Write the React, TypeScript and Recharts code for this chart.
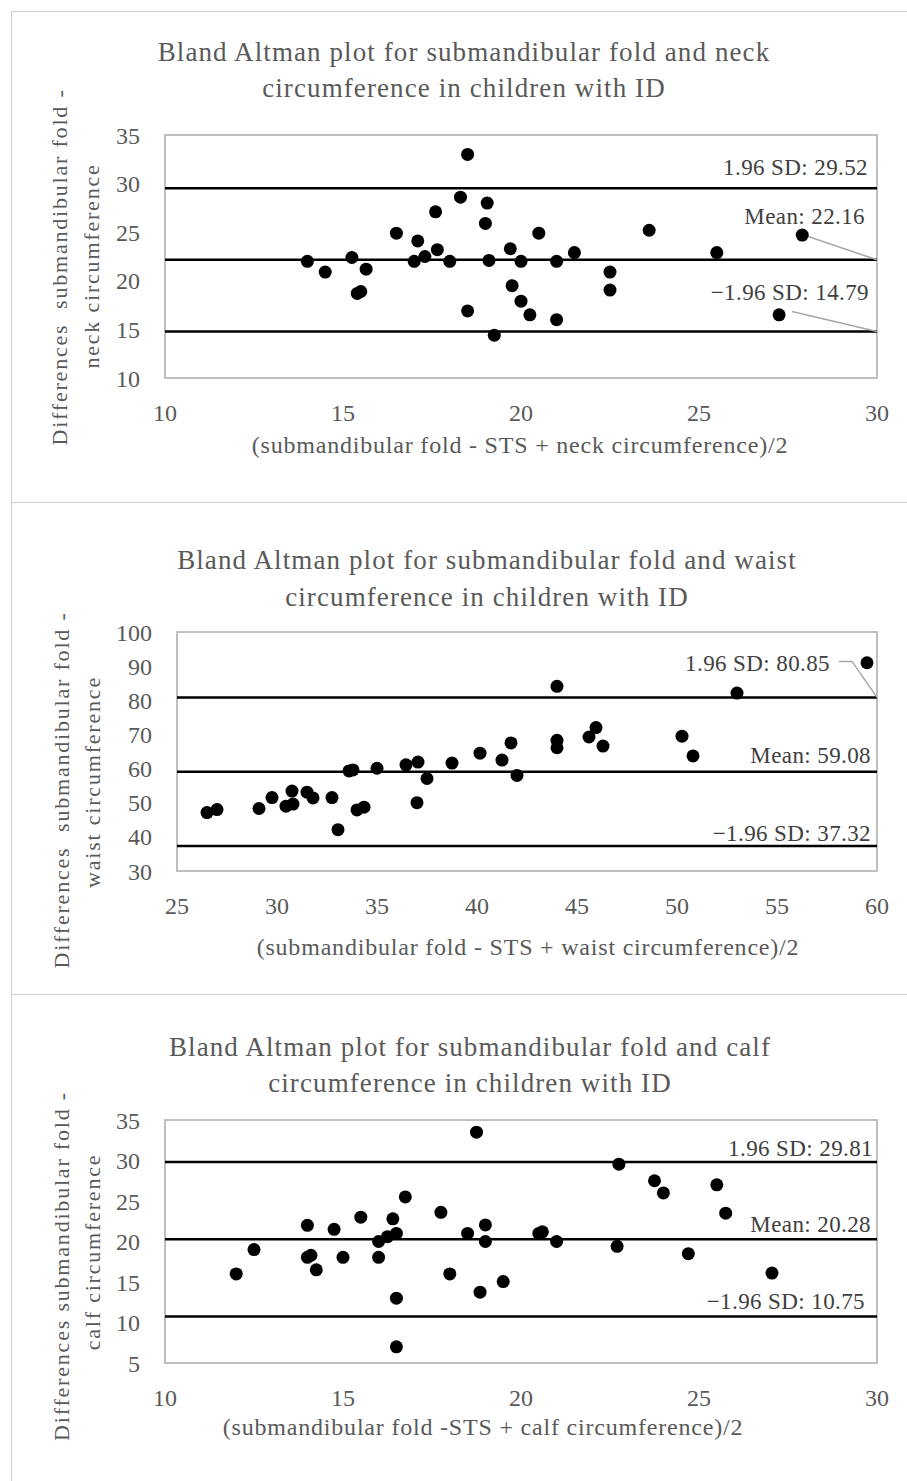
import React from 'react';
import { ScatterChart, Scatter, XAxis, YAxis, ReferenceLine, ReferenceArea } from 'recharts';

// ---------- Data ----------
// Panel 1: neck circumference
const neckMeanX = [14.0, 14.5, 15.25, 15.4, 15.5, 15.65, 16.5, 17.0, 17.1, 17.3, 17.6, 17.65, 18.0, 18.3, 18.5, 18.5, 19.0, 19.05, 19.1, 19.25, 19.7, 19.75, 20.0, 20.0, 20.25, 20.5, 21.0, 21.0, 21.5, 22.5, 22.5, 23.6, 25.5, 27.25, 27.9];
const neckDiffY = [22.0, 20.9, 22.4, 18.7, 18.9, 21.2, 24.9, 22.0, 24.1, 22.5, 27.1, 23.2, 22.0, 28.6, 33.0, 16.9, 25.9, 28.0, 22.1, 14.4, 23.3, 19.5, 22.0, 17.9, 16.5, 24.9, 22.0, 16.0, 22.9, 20.9, 19.05, 25.2, 22.9, 16.5, 24.7];
const neckLimits = { upper: 29.52, mean: 22.16, lower: 14.79 };
const neckXTicks = [10, 15, 20, 25, 30];
const neckYTicks = [10, 15, 20, 25, 30, 35];

// Panel 2: waist circumference
const waistMeanX = [26.5, 27.0, 29.1, 29.75, 30.45, 30.8, 30.75, 31.5, 31.8, 32.75, 33.05, 33.6, 33.8, 34.0, 34.35, 35.0, 36.45, 37.05, 37.0, 37.5, 38.75, 40.15, 41.25, 41.7, 42.0, 44.0, 44.0, 44.0, 45.6, 45.95, 46.3, 50.25, 50.8, 53.0, 59.5];
const waistDiffY = [47.1, 48.0, 48.3, 51.5, 49.0, 49.6, 53.4, 53.1, 51.4, 51.5, 42.1, 59.3, 59.6, 47.9, 48.7, 60.1, 61.1, 61.9, 50.0, 57.1, 61.6, 64.5, 62.5, 67.5, 58.0, 84.1, 68.3, 66.1, 69.25, 72.0, 66.6, 69.5, 63.7, 82.1, 91.0];
const waistLimits = { upper: 80.85, mean: 59.08, lower: 37.32 };
const waistXTicks = [25, 30, 35, 40, 45, 50, 55, 60];
const waistYTicks = [30, 40, 50, 60, 70, 80, 90, 100];

// Panel 3: calf circumference
const calfMeanX = [12.0, 12.5, 14.0, 14.0, 14.1, 14.25, 14.75, 15.0, 15.5, 16.0, 16.0, 16.25, 16.4, 16.5, 16.5, 16.5, 16.75, 17.75, 18.0, 18.5, 18.75, 18.85, 19.0, 19.0, 19.5, 20.5, 20.6, 21.0, 22.7, 22.75, 23.75, 24.0, 24.7, 25.5, 25.75, 27.05];
const calfDiffY = [16.0, 19.0, 22.0, 18.05, 18.3, 16.5, 21.5, 18.05, 23.0, 20.0, 18.05, 20.6, 22.8, 21.0, 13.0, 7.0, 25.5, 23.6, 16.0, 21.0, 33.5, 13.75, 22.05, 20.0, 15.05, 21.0, 21.2, 20.0, 19.4, 29.55, 27.5, 26.0, 18.5, 27.0, 23.5, 16.1];
const calfLimits = { upper: 29.81, mean: 20.28, lower: 10.75 };
const calfXTicks = [10, 15, 20, 25, 30];
const calfYTicks = [5, 10, 15, 20, 25, 30, 35];

const titles = [
  ['Bland Altman plot for submandibular fold and neck', 'circumference in children with ID'],
  ['Bland Altman plot for submandibular fold and waist', 'circumference in children with ID'],
  ['Bland Altman plot for submandibular fold and calf', 'circumference in children with ID'],
];
const xTitles = [
  '(submandibular fold - STS + neck circumference)/2',
  '(submandibular fold - STS + waist circumference)/2',
  '(submandibular fold -STS + calf circumference)/2',
];
const yTitles = [
  ['Differences\u00a0 submandibular fold -', 'neck circumference'],
  ['Differences\u00a0 submandibular fold -', 'waist circumference'],
  ['Differences submandibular fold -', 'calf circumference'],
];

const toPoints = (xs: number[], ys: number[]) => xs.map((x, i) => ({ x, y: ys[i] }));

// ---------- Styles ----------
const FONT = '"Liberation Serif", "Times New Roman", serif';
const TEXT = '#595959';
const LABEL = '#404040';

type LabelSpec = { right: number; above: number; leader?: number[][] };

type Panel = {
  top: number;
  height: number;
  plotLeft: number;
  plotTop: number;
  plotBottom: number;
  titleCx: number;
  titleY: [number, number];
  xTitleCx: number;
  xTitleY: number;
  yTitleX: [number, number];
  yTitleY: [number, number];
  labels: { upper: LabelSpec; mean: LabelSpec; lower: LabelSpec };
};

const panels: Panel[] = [
  {
    top: 0, height: 500, plotLeft: 165, plotTop: 135, plotBottom: 378,
    titleCx: 464, titleY: [52, 88], xTitleCx: 520, xTitleY: 445,
    yTitleX: [60, 92], yTitleY: [267, 266],
    labels: {
      upper: { right: 9, above: 21 },
      mean: { right: 12, above: 43, leader: [[-74, -25], [0, 0]] },
      lower: { right: 8, above: 39, leader: [[-85, -20], [0, 0]] },
    },
  },
  {
    top: 500, height: 494, plotLeft: 177, plotTop: 632, plotBottom: 871,
    titleCx: 487, titleY: [560, 597], xTitleCx: 528, xTitleY: 947,
    yTitleX: [62, 93], yTitleY: [790, 782],
    labels: {
      upper: { right: 47, above: 34, leader: [[-38, -36], [-25, -36], [0, 0]] },
      mean: { right: 6, above: 16 },
      lower: { right: 6, above: 13 },
    },
  },
  {
    top: 994, height: 487, plotLeft: 165, plotTop: 1120, plotBottom: 1363,
    titleCx: 470, titleY: [1047, 1083], xTitleCx: 483, xTitleY: 1427,
    yTitleX: [62, 93], yTitleY: [1266, 1252],
    labels: {
      upper: { right: 4, above: 14 },
      mean: { right: 6, above: 15 },
      lower: { right: 12, above: 15 },
    },
  },
];

const PLOT_RIGHT = 877;
const PAGE_W = 907;

const makeLabel = (text: string, spec: LabelSpec) => (props: any) => {
  const vb = props.viewBox || {};
  const ex = (vb.x ?? 0) + (vb.width ?? 0);
  const ey = vb.y ?? 0;
  return (
    <g>
      <text
        x={ex - spec.right}
        y={ey - spec.above}
        textAnchor="end"
        dominantBaseline="central"
        fill={LABEL}
        fontFamily={FONT}
        fontSize={23}
        letterSpacing={0.4}
      >
        {text}
      </text>
      {spec.leader ? (
        <polyline
          points={spec.leader.map((p) => `${ex + p[0]},${ey + p[1]}`).join(' ')}
          fill="none"
          stroke="#a6a6a6"
          strokeWidth={1.5}
        />
      ) : null}
    </g>
  );
};

const Dot = (props: any) => <circle cx={props.cx} cy={props.cy} r={6.5} fill="#000" />;

type ChartProps = {
  panel: Panel;
  data: { x: number; y: number }[];
  limits: { upper: number; mean: number; lower: number };
  xTicks: number[];
  yTicks: number[];
};

const BAChart = ({ panel, data, limits, xTicks, yTicks }: ChartProps) => {
  const yAxisW = 60;
  const xAxisH = 40;
  const xDom: [number, number] = [xTicks[0], xTicks[xTicks.length - 1]];
  const yDom: [number, number] = [yTicks[0], yTicks[yTicks.length - 1]];
  const margin = {
    top: panel.plotTop - panel.top,
    left: panel.plotLeft - yAxisW,
    right: PAGE_W - PLOT_RIGHT,
    bottom: panel.top + panel.height - panel.plotBottom - xAxisH,
  };
  const tickStyle = { fill: TEXT, fontFamily: FONT, fontSize: 24 };
  return (
    <div style={{ position: 'absolute', left: 0, top: panel.top }}>
      <ScatterChart width={PAGE_W} height={panel.height} margin={margin}>
        <XAxis
          type="number"
          dataKey="x"
          domain={xDom}
          ticks={xTicks}
          allowDataOverflow
          axisLine={false}
          tickLine={false}
          tickSize={0}
          tickMargin={26}
          height={xAxisH}
          tick={tickStyle}
          interval={0}
        />
        <YAxis
          type="number"
          dataKey="y"
          domain={yDom}
          ticks={yTicks}
          allowDataOverflow
          axisLine={false}
          tickLine={false}
          tickSize={0}
          tickMargin={25}
          width={yAxisW}
          tick={tickStyle}
          interval={0}
        />
        <ReferenceArea x1={xDom[0]} x2={xDom[1]} y1={yDom[0]} y2={yDom[1]} fill="none" fillOpacity={0} stroke="#bfbfbf" strokeWidth={2} />
        <ReferenceLine y={limits.upper} stroke="#000" strokeWidth={2.5} label={makeLabel(`1.96 SD: ${limits.upper.toFixed(2)}`, panel.labels.upper)} />
        <ReferenceLine y={limits.mean} stroke="#000" strokeWidth={2.5} label={makeLabel(`Mean: ${limits.mean.toFixed(2)}`, panel.labels.mean)} />
        <ReferenceLine y={limits.lower} stroke="#000" strokeWidth={2.5} label={makeLabel(`\u22121.96 SD: ${limits.lower.toFixed(2)}`, panel.labels.lower)} />
        <Scatter data={data} fill="#000" shape={Dot} isAnimationActive={false} />
      </ScatterChart>
    </div>
  );
};

const abs = (x: number, y: number, extra: React.CSSProperties = {}): React.CSSProperties => ({
  position: 'absolute',
  left: x,
  top: y,
  transform: 'translate(-50%, -50%)',
  whiteSpace: 'nowrap',
  fontFamily: FONT,
  color: TEXT,
  lineHeight: 1,
  ...extra,
});

export default function App() {
  const datasets = [
    { data: toPoints(neckMeanX, neckDiffY), limits: neckLimits, xTicks: neckXTicks, yTicks: neckYTicks },
    { data: toPoints(waistMeanX, waistDiffY), limits: waistLimits, xTicks: waistXTicks, yTicks: waistYTicks },
    { data: toPoints(calfMeanX, calfDiffY), limits: calfLimits, xTicks: calfXTicks, yTicks: calfYTicks },
  ];
  const borderTops = [11, 502, 994];
  const yRot = 'translate(-50%, -50%) rotate(-90deg)';
  return (
    <div style={{ position: 'absolute', left: 0, top: 0, width: PAGE_W, height: 1481, overflow: 'hidden', background: '#fff' }}>
      {borderTops.map((t, i) => (
        <div key={'b' + i} style={{ position: 'absolute', left: 11, top: t, width: PAGE_W, height: (borderTops[i + 1] ?? 1500) - t - 1, borderTop: '1.5px solid #d0d0d0', borderLeft: '1.5px solid #d0d0d0' }} />
      ))}
      {panels.map((p, i) => (
        <React.Fragment key={i}>
          <BAChart panel={p} {...datasets[i]} />
          <div style={abs(p.titleCx, p.titleY[0], { fontSize: 27, letterSpacing: 1.1 })}>{titles[i][0]}</div>
          <div style={abs(p.titleCx, p.titleY[1], { fontSize: 27, letterSpacing: 1.1 })}>{titles[i][1]}</div>
          <div style={abs(p.xTitleCx, p.xTitleY, { fontSize: 24, letterSpacing: 0.8 })}>{xTitles[i]}</div>
          <div style={abs(p.yTitleX[0], p.yTitleY[0], { fontSize: 22, letterSpacing: 1.8, transform: yRot })}>{yTitles[i][0]}</div>
          <div style={abs(p.yTitleX[1], p.yTitleY[1], { fontSize: 22, letterSpacing: 1.8, transform: yRot })}>{yTitles[i][1]}</div>
        </React.Fragment>
      ))}
    </div>
  );
}
